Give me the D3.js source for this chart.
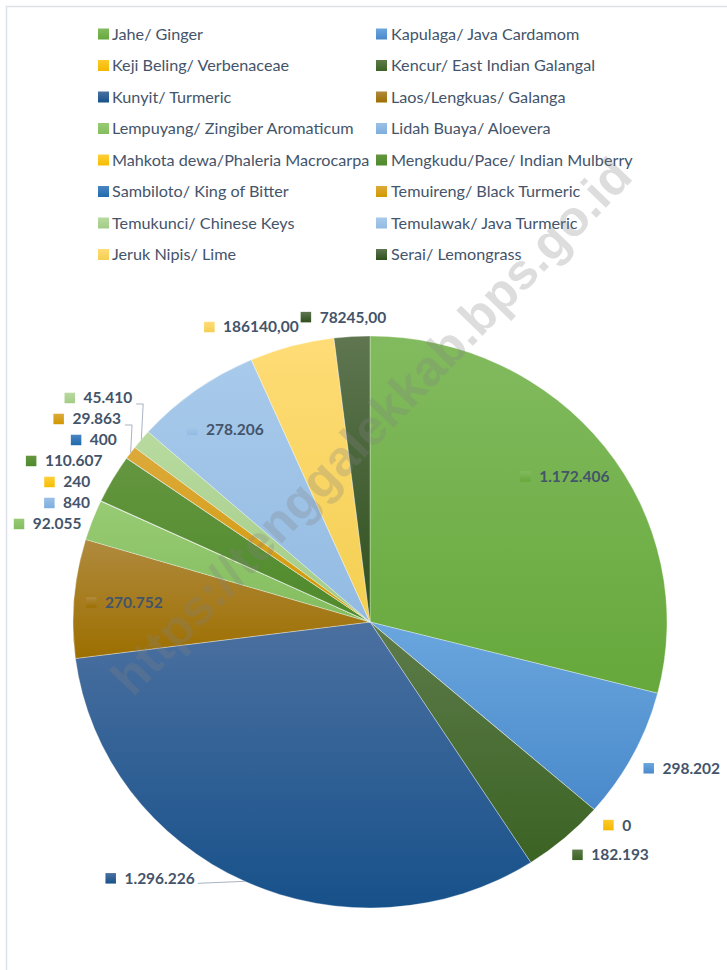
<!DOCTYPE html>
<html>
<head>
<meta charset="utf-8">
<script src="https://cdn.jsdelivr.net/npm/d3@7"></script>
<style>
  html, body { margin: 0; padding: 0; background: #fff; }
  text { font-family: Lato, "Open Sans", sans-serif; }
</style>
</head>
<body>
<div id="chart"></div>
<script>
// Chart data (pie slices, clockwise from 12 o'clock)
var categories = [
  'Jahe/ Ginger', 'Kapulaga/ Java Cardamom',
  'Keji Beling/ Verbenaceae', 'Kencur/ East Indian Galangal',
  'Kunyit/ Turmeric', 'Laos/Lengkuas/ Galanga',
  'Lempuyang/ Zingiber Aromaticum', 'Lidah Buaya/ Aloevera',
  'Mahkota dewa/Phaleria Macrocarpa', 'Mengkudu/Pace/ Indian Mulberry',
  'Sambiloto/ King of Bitter', 'Temuireng/ Black Turmeric',
  'Temukunci/ Chinese Keys', 'Temulawak/ Java Turmeric',
  'Jeruk Nipis/ Lime', 'Serai/ Lemongrass'
];
var production = [
  1172406, 298202, 0, 182193, 1296226, 270752, 92055, 840,
  240, 110607, 400, 29863, 45410, 278206, 186140, 78245
];
// series whose labels were typed as decimals in the source sheet
var decimalSeries = ['Jeruk Nipis/ Lime', 'Serai/ Lemongrass'];
// label placement mode per slice
var labelMode = [
  'in', 'out', 'out', 'out', 'leader', 'in', 'out', 'out',
  'out', 'out', 'out', 'out', 'out', 'in', 'out', 'out'
];
var colorTop = [
  '#82bb5f', '#6aa6de', '#ffca2a', '#5d7b4a', '#4b70a0', '#b08a3e', '#98cb74', '#9bc0e6',
  '#ffcf3a', '#64963f', '#4a86c2', '#dcaa3c', '#b8da9f', '#a8caeb', '#ffdc76', '#5f7651'
];
var colorBottom = [
  '#66a83b', '#4a8acb', '#f2b800', '#3b6323', '#17518a', '#9d6f00', '#83bd5e', '#7eaedf',
  '#f5bd00', '#4f8a2c', '#1f6aad', '#d29800', '#a3cc87', '#93bbe2', '#f3cf52', '#2f4f1c'
];

var width = 727,
  height = 970,
  cx = 370,
  cy = 622,
  ry = 286,
  rx = 297,
  textColor = '#44546a';

var svg = d3
  .select('#chart')
  .append('svg')
  .attr('width', width)
  .attr('height', height);

// chart area frame
svg
  .append('rect')
  .attr('x', 6.5)
  .attr('y', 6.5)
  .attr('width', width)
  .attr('height', height)
  .attr('fill', 'none')
  .attr('stroke', '#dde1e8')
  .attr('stroke-width', 1.5);

// vertical gradients like the office chart fill
var defs = svg.append('defs');
categories.forEach(function (c, i) {
  var g = defs
    .append('linearGradient')
    .attr('id', 'grad' + i)
    .attr('x1', 0)
    .attr('y1', 0)
    .attr('x2', 0)
    .attr('y2', 1);
  g.append('stop').attr('offset', '0%').attr('stop-color', colorTop[i]);
  g.append('stop').attr('offset', '100%').attr('stop-color', colorBottom[i]);
});

var rows = categories.map(function (name, i) {
  return { name: name, value: production[i], i: i };
});

// Legend (two columns)
var legend = svg
  .append('g')
  .selectAll('g')
  .data(rows)
  .join('g')
  .attr('transform', function (d) {
    var col = d.i % 2,
      row = Math.floor(d.i / 2);
    return 'translate(' + (col ? 376 : 98) + ',' + (34 + row * 31.5) + ')';
  });
legend
  .append('rect')
  .attr('y', -5.5)
  .attr('width', 11)
  .attr('height', 11)
  .attr('fill', function (d) {
    return 'url(#grad' + d.i + ')';
  });
legend
  .append('text')
  .attr('x', function (d) {
    return d.i % 2 ? 15 : 14;
  })
  .attr('dy', '0.35em')
  .attr('fill', textColor)
  .style('font-size', '16.2px')
  .text(function (d) {
    return d.name;
  });

// Pie
var pie = d3
  .pie()
  .sort(null)
  .value(function (d) {
    return d.value;
  });
var arcs = pie(rows);
var arc = d3.arc().innerRadius(0).outerRadius(ry);

var pieG = svg
  .append('g')
  .attr('transform', 'translate(' + cx + ',' + cy + ') scale(' + rx / ry + ',1)');
pieG
  .selectAll('path')
  .data(arcs)
  .join('path')
  .attr('d', arc)
  .attr('fill', function (d) {
    return 'url(#grad' + d.index + ')';
  })
  .attr('stroke', '#ffffff')
  .attr('stroke-opacity', 0.55)
  .attr('stroke-width', 0.6)
  .attr('vector-effect', 'non-scaling-stroke');

// point on the (slightly oval) pie at k * radius along a slice's middle
function pointAt(d, k) {
  var c = d3.arc().innerRadius(ry * k).outerRadius(ry * k).centroid(d);
  return [cx + c[0] * rx / ry, cy + c[1]];
}

var fmtInt = d3.formatLocale({ decimal: ',', thousands: '.', grouping: [3], currency: ['', ''] }).format(',.0f');
var fmtDec = d3.formatLocale({ decimal: ',', thousands: '', grouping: [3], currency: ['', ''] }).format('.2f');

function clamp01(v) {
  return Math.max(0, Math.min(1, v));
}

// Data labels
var leaderG = svg.append('g');
var labelG = svg.append('g');
var boxH = 16,
  markSize = 10.5,
  markGap = 8.5;

var labels = arcs.map(function (d) {
  var g = labelG.append('g');
  var txt = g
    .append('text')
    .attr('x', markSize + markGap)
    .attr('dy', '0.35em')
    .attr('fill', textColor)
    .style('font-size', '15.5px')
    .style('font-weight', 700)
    .text(
      decimalSeries.indexOf(d.data.name) >= 0 ? fmtDec(d.value) : fmtInt(d.value)
    );
  g.append('rect')
    .attr('y', -markSize / 2)
    .attr('width', markSize)
    .attr('height', markSize)
    .attr('fill', 'url(#grad' + d.index + ')');
  var w = markSize + markGap + txt.node().getComputedTextLength();
  var mid = (d.startAngle + d.endAngle) / 2;
  var mode = labelMode[d.index];
  var lab = { d: d, g: g, w: w, mode: mode, mid: mid, edge: pointAt(d, 1) };
  if (mode === 'in') {
    var c = pointAt(d, 0.83);
    lab.x = c[0] - w / 2;
    lab.cy = c[1];
  } else if (mode === 'leader') {
    lab.x = lab.edge[0] - 50 - w;
    lab.cy = lab.edge[1] - 3;
  } else {
    var a = pointAt(d, 1.04);
    var fx = clamp01(0.5 - 1.5 * Math.sin(mid));
    var fy = clamp01((Math.cos(mid) - 0.5) * 2.5);
    lab.x = a[0] - fx * w;
    lab.cy = a[1] - fy * boxH + boxH / 2;
  }
  return lab;
});

// push overlapping outside labels upward, starting from the lowest
var outside = labels
  .filter(function (l) {
    return l.mode === 'out';
  })
  .sort(function (a, b) {
    return b.cy - a.cy;
  });
var spacing = 21;
var placed = [];
outside.forEach(function (l) {
  placed.forEach(function (p) {
    var overlapX = l.x < p.x + p.w && p.x < l.x + l.w;
    if (overlapX && l.cy > p.cy - spacing) l.cy = p.cy - spacing;
  });
  placed.push(l);
});

labels.forEach(function (l) {
  l.g.attr('transform', 'translate(' + l.x + ',' + l.cy + ')');
  var pts;
  if (l.mode === 'leader') {
    pts = [[l.x + l.w + 3, l.cy + 5], l.edge];
  } else if (l.mode === 'out') {
    // distance from the slice edge point to the label box
    var dx = Math.max(l.x - l.edge[0], 0, l.edge[0] - (l.x + l.w));
    var dy = Math.max(l.cy - boxH / 2 - l.edge[1], 0, l.edge[1] - (l.cy + boxH / 2));
    if (Math.hypot(dx, dy) > 20) {
      pts = [
        [l.x + l.w + 4, l.cy + 6],
        [l.x + l.w + 11, l.cy + 6],
        l.edge
      ];
    }
  }
  if (pts) {
    leaderG
      .append('path')
      .attr('d', d3.line()(pts))
      .attr('fill', 'none')
      .attr('stroke', '#a9b3c2')
      .attr('stroke-width', 1);
  }
});

// Watermark
svg
  .append('text')
  .attr('transform', 'translate(371,426) rotate(-46)')
  .attr('text-anchor', 'middle')
  .attr('dy', '0.35em')
  .attr('fill', '#808080')
  .attr('fill-opacity', 0.27)
  .style('font-family', '"Liberation Sans", Arial, sans-serif')
  .style('font-weight', 700)
  .style('font-size', '50px')
  .text('https://tenggalekkab.bps.go.id');
</script>
</body>
</html>
